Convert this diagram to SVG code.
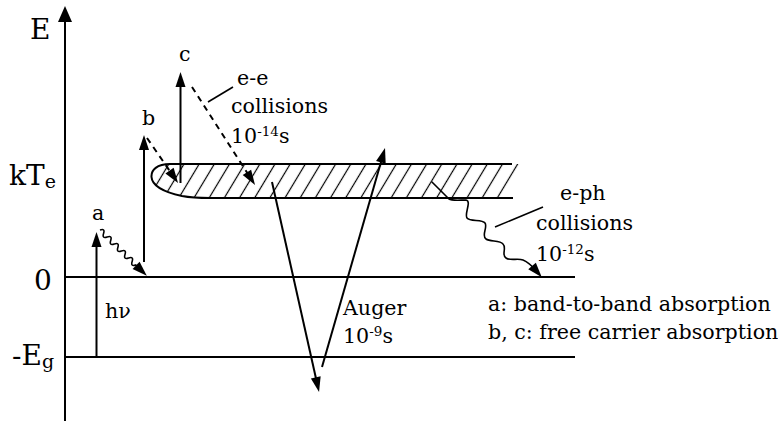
<svg xmlns="http://www.w3.org/2000/svg" width="778" height="421" viewBox="0 0 778 421">
  <defs>
    <style>
      .ln{stroke:#000;stroke-width:2;fill:none}
      .thin{stroke:#000;stroke-width:1.6;fill:none}
      .dash{stroke:#000;stroke-width:2;fill:none;stroke-dasharray:6 5}
      .arr{marker-end:url(#ah)}
      text{font-family:"DejaVu Serif","Liberation Serif",serif;fill:#000}
      .big{font-size:28px}
      .lab{font-size:20.6px}
      .sup{font-size:13.5px}
      .sub{font-size:19px}
    </style>
    <marker id="ah" markerUnits="userSpaceOnUse" markerWidth="15" markerHeight="10" refX="7" refY="5" orient="auto" overflow="visible">
      <path d="M0,0 L15,5 L0,10 z" fill="#000" stroke="none"/>
    </marker>
    <marker id="ahBig" markerUnits="userSpaceOnUse" markerWidth="16" markerHeight="14" refX="8" refY="7" orient="auto" overflow="visible">
      <path d="M0,0 L16,7 L0,14 z" fill="#000" stroke="none"/>
    </marker>
    <pattern id="hatch" patternUnits="userSpaceOnUse" x="1.7" y="0" width="13" height="20" patternTransform="rotate(31)">
      <line x1="6.5" y1="-2" x2="6.5" y2="22" stroke="#000" stroke-width="1.2"/>
    </pattern>
  </defs>

  <g id="axis">
    <line class="ln" x1="65" y1="421" x2="65" y2="14" style="marker-end:url(#ahBig)"/>
    <text class="big" x="30" y="39">E</text>
  </g>

  <g id="levels">
    <line class="ln" x1="65" y1="277" x2="575" y2="277"/>
    <line class="ln" x1="65" y1="357" x2="575" y2="357"/>
    <text class="big" x="34" y="290">0</text>
    <text class="big" x="12" y="365">-E<tspan class="sub" dy="3">g</tspan></text>
    <text class="big" x="9" y="185">kT<tspan class="sub" dy="3">e</tspan></text>
  </g>

  <g id="band">
    <path d="M520,164 H170 C157,164 151,170 151.5,177 C152,185 163,192 182,196 C190,197.5 200,198 210,198 H500 Z" fill="url(#hatch)" stroke="none"/>
    <path class="ln" d="M512,164 H170 C157,164 151,170 151.5,177 C152,185 163,192 182,196 C190,197.5 200,198 210,198 H513"/>
  </g>

  <g id="connectors">
    <line class="ln arr" x1="96.5" y1="357" x2="96.5" y2="240"/>
    <g transform="translate(100,230) rotate(44.4)">
      <path class="thin arr" d="M0,0 q2.5,-5 5,0 t5,0 t5,0 t5,0 t5,0 t5,0 t5,0 t5,0 t5,0 t5,0 L57.5,0"/>
    </g>
    <line class="ln arr" x1="144" y1="262" x2="144" y2="143"/>
    <line class="dash arr" x1="147" y1="138" x2="173.5" y2="176.4"/>
    <line class="ln arr" x1="180.5" y1="183" x2="180.5" y2="80"/>
    <line class="dash arr" x1="192" y1="87" x2="250.7" y2="178.3"/>
    <line class="thin" x1="208" y1="102" x2="233" y2="87"/>
    <line class="ln arr" x1="272" y1="182" x2="317.3" y2="384.2"/>
    <line class="ln arr" x1="322" y1="367" x2="382.8" y2="155.7"/>
    <path class="thin arr" d="M431.7,181.7 L449,199 C452,201 460,200 466,200 C472,201 464,214 467,218 C470,222 482,219 485,223 C488,227 481,236 486,239 C490,242 500,240 503,244 C507,248 501,255 506,258 C510,261 518,258 523,260 C528,262 533,267 536.6,271.2"/>
    <line class="thin" x1="495" y1="227" x2="543" y2="207"/>
  </g>

  <g id="labels">
    <text class="lab" x="92" y="220">a</text>
    <text class="lab" x="142" y="125">b</text>
    <text class="lab" x="179" y="61">c</text>
    <text class="lab" x="105" y="318">hν</text>
    <text class="lab" x="237" y="85">e-e</text>
    <text class="lab" x="231" y="113">collisions</text>
    <text class="lab" x="231" y="143">10<tspan class="sup" dy="-7">-14</tspan><tspan dy="7">s</tspan></text>
    <text class="lab" x="560" y="200">e-ph</text>
    <text class="lab" x="536" y="230">collisions</text>
    <text class="lab" x="536" y="261">10<tspan class="sup" dy="-7">-12</tspan><tspan dy="7">s</tspan></text>
    <text class="lab" x="343" y="315">Auger</text>
    <text class="lab" x="343" y="343">10<tspan class="sup" dy="-7">-9</tspan><tspan dy="7">s</tspan></text>
    <text class="lab" x="488" y="311">a: band-to-band absorption</text>
    <text class="lab" x="488" y="339">b, c: free carrier absorption</text>
  </g>
</svg>
